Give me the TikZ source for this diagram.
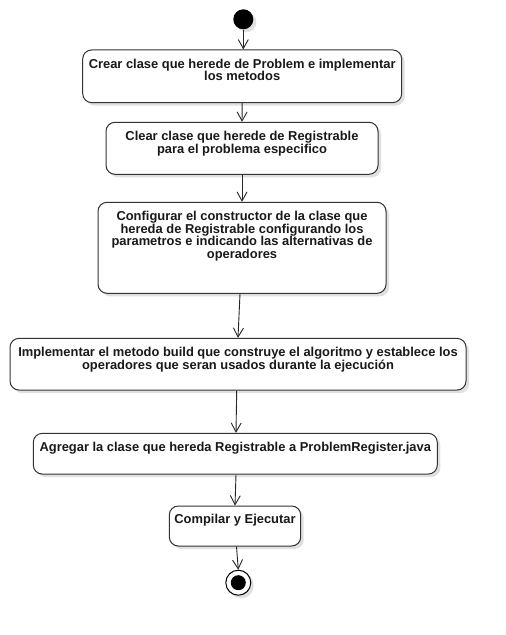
\documentclass[tikz,border=0pt]{standalone}
\usepackage{fontspec}
\setmainfont{Liberation Sans}
\usetikzlibrary{arrows.meta,shadows}
\begin{document}
\begin{tikzpicture}[x=1pt,y=-1pt,
  shd/.style={drop shadow={shadow xshift=3pt, shadow yshift=-3pt, opacity=0.12, fill=black}},
  act/.style={draw=black!80, line width=1pt, rounded corners=9pt, fill=white, inner sep=0pt, shd},
  lbl/.style={anchor=north, inner sep=0pt, align=center, font=\fontsize{12.9}{12.8}\selectfont\bfseries, text=black!90},
  arr/.style={-{Straight Barb[length=9pt,width=10pt]}, line width=0.9pt, draw=black!85}]
\useasboundingbox[fill=white] (0,0) rectangle (506,635);

\node[circle, fill=black, minimum size=20pt, inner sep=0pt, shd] (start) at (243.3,19.3) {};

\node[act, minimum width=319pt, minimum height=52.7pt] (b1) at (242.2,76.3) {};
\node[lbl] (t1) at (242.2,58.5) {Crear clase que herede de Problem e implementar\\los metodos};

\node[act, minimum width=272pt, minimum height=52pt] (b2) at (242,148.3) {};
\node[lbl] (t2) at (242,130.8) {Clear clase que herede de Registrable\\para el problema especifico};

\node[act, minimum width=288pt, minimum height=91pt] (b3) at (242,247.8) {};
\node[lbl] (t3) at (242,210.8) {Configurar el constructor de la clase que\\hereda de Registrable configurando los\\parametros e indicando las alternativas de\\operadores};

\node[act, minimum width=456pt, minimum height=51.7pt] (b4) at (238,364.2) {};
\node[lbl] (t4) at (238,346.8) {Implementar el metodo build que construye el algoritmo y establece los\\operadores que seran usados durante la ejecución};

\node[act, minimum width=404pt, minimum height=40.7pt] (b5) at (235.3,453.7) {};
\node[lbl] (t5) at (235.3,442) {Agregar la clase que hereda Registrable a ProblemRegister.java};

\node[act, minimum width=131.4pt, minimum height=40pt] (b6) at (235,526) {};
\node[lbl] (t6) at (235,514) {Compilar y Ejecutar};

\node[circle, draw=black, fill=white, line width=1pt, minimum size=25pt, inner sep=0pt, shd] (end) at (238.3,582.7) {};
\node[circle, fill=black, minimum size=15pt, inner sep=0pt] (endin) at (end.center) {};

\draw[arr] (start) -- (start |- b1.north);
\draw[arr] (b1.south) -- (b2.north);
\draw[arr] (b2.south) -- (b3.north);
\draw[arr] ([xshift=-2pt]b3.south) -- (b4.north);
\draw[arr] ([xshift=-1.3pt]b4.south) -- ([xshift=0.7pt]b5.north);
\draw[arr] ([xshift=0.7pt]b5.south) -- (b6.north);
\draw[arr] ([xshift=1.5pt]b6.south) -- (end.north);
\end{tikzpicture}
\end{document}
